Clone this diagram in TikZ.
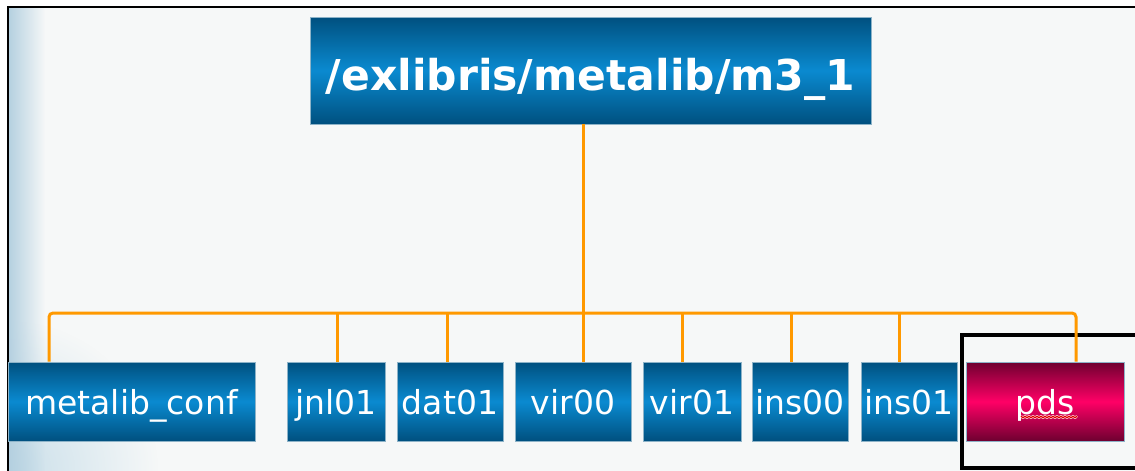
\documentclass[tikz,border=0pt]{standalone}
\usepackage{fontspec}
\setmainfont{DejaVu Sans}
\usetikzlibrary{fadings}
\definecolor{bg}{HTML}{F6F8F8}
\definecolor{stripblue}{HTML}{B4D0E0}
\definecolor{glowblue}{HTML}{C4DCE8}
\definecolor{bdark}{HTML}{00507F}
\definecolor{bmid}{HTML}{0A8AD0}
\definecolor{pdark}{HTML}{6E0030}
\definecolor{pmid}{HTML}{FF0066}
\definecolor{boxedge}{HTML}{8DB3C8}
\definecolor{wireorange}{HTML}{FF9900}
\definecolor{spellred}{HTML}{E00000}
\tikzfading[name=fadestrip, left color=transparent!0, right color=transparent!100]
\tikzfading[name=glowfade, inner color=transparent!10, outer color=transparent!100]
\tikzset{
  bluebox/.style={draw=boxedge, line width=0.8pt, top color=bdark, bottom color=bdark, middle color=bmid,
    text=white, inner sep=0pt, minimum height=79pt, text height=25pt, text depth=0pt,
    font=\fontsize{33}{33}\selectfont},
  pinkbox/.style={bluebox, top color=pdark, bottom color=pdark, middle color=pmid},
  topbox/.style={bluebox, minimum height=107pt, text height=39pt, text depth=0pt,
    font=\bfseries\fontsize{42.5}{42.5}\selectfont},
  wire/.style={draw=wireorange, line width=3pt},
  frameline/.style={draw=black, line width=1.2pt},
  focusline/.style={draw=black, line width=3.2pt},
  spellhalo/.style={draw=white!85!pink, line width=2.2pt, line join=round},
  spell/.style={draw=spellred, line width=1.1pt, line join=round}
}
\begin{document}
\begin{tikzpicture}[x=1pt,y=-1pt]
\useasboundingbox (0,0) rectangle (1135,471);
\fill[white] (0,0) rectangle (1135,471);
\fill[bg] (8,7) rectangle (1135,471);
\begin{scope}
  \clip (8,7) rectangle (1135,471);
  \fill[glowblue, path fading=glowfade] (8,471) circle (150pt);
  \fill[stripblue, path fading=fadestrip] (8,7) rectangle (45,471);
\end{scope}
\draw[frameline] (1135,7) -- (8,7) -- (8,471);
\draw[focusline] (1140,335) -- (962,335) -- (962,468) -- (1140,468);

\node[topbox, minimum width=561pt] (top) at (590.5,70.5) {/exlibris/metalib/m3\_1};

\node[bluebox, minimum width=247pt] (mc)   at (131.5,401.5) {metalib\_conf};
\node[bluebox, minimum width=98pt]  (jnl)  at (336,401.5) {jnl01};
\node[bluebox, minimum width=106pt] (dat)  at (450,401.5) {dat01};
\node[bluebox, minimum width=116pt] (vir0) at (573,401.5) {vir00};
\node[bluebox, minimum width=98pt]  (vir1) at (692,401.5) {vir01};
\node[bluebox, minimum width=96pt]  (ins0) at (800,401.5) {ins00};
\node[bluebox, minimum width=96pt]  (ins1) at (909,401.5) {ins01};
\node[pinkbox, minimum width=158pt] (pds)  at (1045,401.5) {pds};

\coordinate (j1) at (49,313);
\coordinate (j2) at (337,313);
\coordinate (j3) at (447,313);
\coordinate (j4) at (583,313);
\coordinate (j5) at (682,313);
\coordinate (j6) at (791,313);
\coordinate (j7) at (899,313);
\coordinate (j8) at (1076,313);

\draw[wire] (j4 |- top.south) -- (j4);
\draw[wire, rounded corners=4pt] (j1 |- mc.north) -- (j1) -- (j8) -- (j8 |- pds.north);
\foreach \j/\n in {j2/jnl, j3/dat, j4/vir0, j5/vir1, j6/ins0, j7/ins1}
  \draw[wire] (\j) -- (\j |- \n.north);

\coordinate (ul1) at (1021,416);
\draw[spellhalo] (ul1) foreach \k in {1,...,14} { -- ++(2,2) -- ++(2,-2) };
\draw[spell] (ul1) foreach \k in {1,...,14} { -- ++(2,2) -- ++(2,-2) };
\end{tikzpicture}
\end{document}
